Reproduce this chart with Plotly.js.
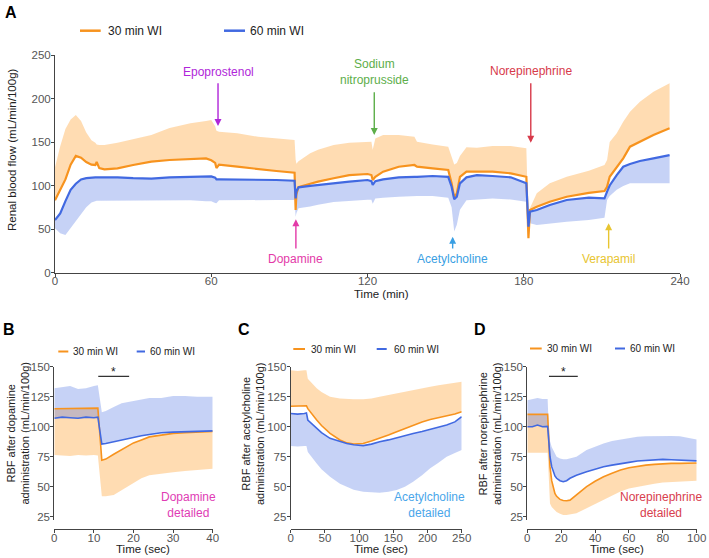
<!DOCTYPE html>
<html><head><meta charset="utf-8">
<script src="https://cdn.plot.ly/plotly-3.0.1.min.js"></script>
<style>html,body{margin:0;padding:0;background:#fff}#chart{width:709px;height:558px}</style>
</head><body><div id="chart"></div>
<script>
// ---------- Panel A: whole experiment (time in min) ----------
const tA  = [0,2,4,6,8,10,12,14,15.5,16,17,19,24,30,37,44,52,58,60,61.5,62,63,70,78,85,92,92.4,92.7,93.5,98,101,107,113,120,121.5,122,123,126,132,138,139,145,151,152.3,153.3,154.3,155.5,158,162,168,175,181,181.8,182.4,185,190,196.5,205,211,212,213,215.7,218.2,220.8,224.6,229.8,236];
const oA  = [83,95,107,124,134,132,127,124,123.6,127,120,118.6,119.7,123.6,127.4,129.3,130.5,131.2,129,126,120,124,121.6,118.6,116.7,114.7,72,90,98,102,104.5,108.3,112,113.2,112,106.3,110,115.9,121.6,123.6,121.6,119.7,117.8,102.5,86,91,110,116,115.9,115.9,114,110,39.3,71.8,75.6,81.4,87.1,91.5,93.7,98.6,110,121.6,131.2,144.6,150.3,158,165.7];
const oUA = [121,145,165,176,181,174,161,152,149,147,146.6,146.6,149.2,153,158,166,171.5,174,175.3,168,163,161.8,160,156,154,152.3,130,125,128,137,141,146.6,149.2,150.3,150.3,141,154,158,158,156,150.3,147,144.6,133,124,126,134,144,143.5,145.4,145.4,142.7,55,74,91,102.5,110,117,123.6,129.3,150,160,173.4,184.8,196.3,207.8,217.5];
const bA  = [60.3,68,82,95,102,107,108.5,109.4,109.4,109.4,109.4,109.4,109.4,108.5,108,109.4,110,110.9,110.5,109,107,107.1,107.1,106.8,106.3,105.5,85.2,93,97.9,99.5,100.6,102.5,104.4,106.3,105,100.6,105,107.1,109.4,110,110,110.9,110,98.6,84.1,87.1,102.5,109.4,112,110.9,109.4,102.5,52.6,69.9,71.8,77.6,83.3,86,85.2,92.9,100,112,121.6,124.7,128.2,131.2,135];
const bLA = [50.8,45,43,50.8,59,66,75,80.5,82,82.5,82.5,82.5,82.5,83,83.3,83.3,83,82,82,80,79.5,83,83.3,83.3,83.3,83.3,64,68,73.8,76,78,81,82.5,83.5,83.5,79,85,86,87,88,88,88,86,75,47,55,72,83,84,85.2,84,81.4,50,56.5,54.6,56.5,58.4,60.3,63,83.3,88,95,99.5,102.5,102.5,102.5,102.5];
const xTicksA = [0,60,120,180,240];
const yTicksA = [0,50,100,150,200,250];
const drugs      = ['Epoprostenol','Sodium<br>nitroprusside','Norepinephrine','Dopamine','Acetylcholine','Verapamil'];
const drugTime   = [62.6,122.6,182.7,92.5,152.7,212.6];

// ---------- Panel B: dopamine detailed (sec) ----------
const tB  = [0,2,4,6,8,10,11,12,13,15,17,20,22,24,27,30,33,36,40];
const oB  = [115,115,115.5,115,115.5,115.5,115.5,72,73,77,81,86.5,89,91.5,93,94.4,95,95.5,96];
const oLB = [76.5,76,75.5,76.5,76,76.5,76,42,42,43,47,53.5,57,59.5,61,62,63,64,65];
const bB  = [107,108,107.5,107,108,107.5,108,85.5,86,87.5,89,91.5,92.5,93.5,95,95.5,95.8,96.2,96.5];
const bUB = [132,133,134,131.5,132,134,134.5,112,113,116.5,119.5,121.5,122.5,124,124,125.5,125.5,125,125];

// ---------- Panel C: acetylcholine detailed (sec) ----------
const tC  = [0,10,20,23,25,30,38,45,57.5,72,82,92,106,118,130,143,155,167,179,192,204,216,228,240,250];
const oC  = [117,117,117,117.5,115,111,105.6,101,94.4,88.9,86.5,85.6,86,88,90.3,93,95.8,98.5,101.4,104,106,107.5,109,110.5,112.5];
const oUC = [147,146.5,147,147,140,137,132,129,125,123.5,123,122.8,122.8,123.5,125,126.5,127.8,129.5,131,132,133.3,134.5,135.5,136.5,137.5];
const bC  = [111,110.5,111,111.5,105.6,103,98.6,95,90.3,87.5,86,85,84.2,85.5,87.5,89,91,92.5,94.4,96,97.8,99.5,101.4,104,108.3];
const bLC = [84,83.5,84,84,79,75,69.4,64.5,58.3,52.5,50,47.5,45.8,45.2,45,45.8,47.2,50,54.2,59.5,65.3,70,75,78,80.6];

// ---------- Panel D: norepinephrine detailed (sec) ----------
const tD  = [0,3,6,9,12,12.5,13.4,14.4,16.3,17.3,19.3,21.2,23.2,25.2,29,35,40,45,50,55,60,65,70,75,80,85,90,95,100];
const oD  = [110.3,110.3,110.5,110.3,110.3,95,66.7,55,44.4,42,39.4,38.5,38.3,38.8,43,50,54.5,58.3,61.2,63.9,65.8,67.2,68,68.6,69.1,69.4,69.4,69.5,69.8];
const oLD = [78.3,78.5,78.3,78.3,78.3,65,36,33,30,29,27.5,26.5,26.4,26.8,27.8,32,35.5,39,43,46,48.5,50,51.5,52.5,53.5,54,54.5,55,55];
const bD  = [100,100,101.4,100,100.3,90,75,66.7,59,57,55,54.2,55,57,59.5,62.5,64.5,66.7,68,69.4,70.3,71.4,72,72.5,72.8,72.5,72.2,72,71.5];
const bUD = [122,123,124,123,123,105,88,83,77,75,73.5,72.8,72.8,73.5,75,80.6,83.5,86,88,89.4,90.5,91.7,92,92.2,92.2,92.2,92,91,89.4];

const seriesNames = ['30 min WI','60 min WI'];
const yTicksSmall = [25,50,75,100,125,150];

// ---------- styling ----------
const W = 709, H = 558;
const FONT = 'Liberation Sans, Arial, Helvetica, sans-serif';
const OR = '#f7931e', BL = '#4169e1';
const ORF = 'rgba(255,140,0,0.3)', BLF = 'rgba(65,105,225,0.3)';
const fx = p => p / W, fy = p => 1 - p / H;

function band(x, edge, mean, fill, ax, ay) {
  return [
    {x: x, y: edge, mode: 'lines', line: {width: 0}, xaxis: ax, yaxis: ay, hoverinfo: 'skip', showlegend: false},
    {x: x, y: mean, mode: 'lines', line: {width: 0}, fill: 'tonexty', fillcolor: fill, xaxis: ax, yaxis: ay, hoverinfo: 'skip', showlegend: false}
  ];
}
function meanLine(x, y, color, w, name, ax, ay) {
  return {x: x, y: y, mode: 'lines', line: {color: color, width: w}, name: name, xaxis: ax, yaxis: ay, showlegend: false};
}

const traces = [
  ...band(tA, oUA, oA, ORF, 'x', 'y'),
  ...band(tA, bLA, bA, BLF, 'x', 'y'),
  meanLine(tA, oA, OR, 2.2, seriesNames[0], 'x', 'y'),
  meanLine(tA, bA, BL, 2.2, seriesNames[1], 'x', 'y'),

  ...band(tB, oLB, oB, ORF, 'x2', 'y2'),
  ...band(tB, bUB, bB, BLF, 'x2', 'y2'),
  meanLine(tB, oB, OR, 1.6, seriesNames[0], 'x2', 'y2'),
  meanLine(tB, bB, BL, 1.6, seriesNames[1], 'x2', 'y2'),

  ...band(tC, oUC, oC, ORF, 'x3', 'y3'),
  ...band(tC, bLC, bC, BLF, 'x3', 'y3'),
  meanLine(tC, oC, OR, 1.6, seriesNames[0], 'x3', 'y3'),
  meanLine(tC, bC, BL, 1.6, seriesNames[1], 'x3', 'y3'),

  ...band(tD, oLD, oD, ORF, 'x4', 'y4'),
  ...band(tD, bUD, bD, BLF, 'x4', 'y4'),
  meanLine(tD, oD, OR, 1.6, seriesNames[0], 'x4', 'y4'),
  meanLine(tD, bD, BL, 1.6, seriesNames[1], 'x4', 'y4')
];

const ax = {showline: true, linecolor: '#444', linewidth: 1, ticks: 'outside', ticklen: 3, tickwidth: 1,
  tickcolor: '#444', showgrid: false, zeroline: false, fixedrange: true,
  tickfont: {family: FONT, size: 11.5, color: '#555'}};
const xa = Object.assign({}, ax, {ticklabelstandoff: -5});
const ya = Object.assign({}, ax, {ticklabelstandoff: -2});
const yDomSmall = [fy(520.3), fy(366.7)];
const xPosSmall = fy(529.3);

const layout = {
  width: W, height: H, margin: {l: 0, r: 0, t: 0, b: 0},
  paper_bgcolor: '#fff', plot_bgcolor: 'rgba(0,0,0,0)', showlegend: false,
  font: {family: FONT, color: '#222'},
  xaxis:  Object.assign({}, xa, {domain: [fx(55), fx(680)], range: [0, 240], tickvals: xTicksA, anchor: 'y'}),
  yaxis:  Object.assign({}, ya, {domain: [fy(272.5), fy(55)], range: [0, 250], tickvals: yTicksA, anchor: 'x'}),
  xaxis2: Object.assign({}, xa, {domain: [fx(54.3), fx(212.7)], range: [0, 40], tickvals: [0,10,20,30,40], anchor: 'free', position: xPosSmall}),
  yaxis2: Object.assign({}, ya, {domain: yDomSmall, range: [22, 150], tickvals: yTicksSmall, anchor: 'x2'}),
  xaxis3: Object.assign({}, xa, {domain: [fx(290.7), fx(461.7)], range: [0, 250], tickvals: [0,50,100,150,200,250], anchor: 'free', position: xPosSmall}),
  yaxis3: Object.assign({}, ya, {domain: yDomSmall, range: [22, 150], tickvals: yTicksSmall, anchor: 'x3'}),
  xaxis4: Object.assign({}, xa, {domain: [fx(527.3), fx(696.7)], range: [0, 100], tickvals: [0,20,40,60,80,100], anchor: 'free', position: xPosSmall}),
  yaxis4: Object.assign({}, ya, {domain: yDomSmall, range: [22, 150], tickvals: yTicksSmall, anchor: 'x4'}),
  shapes: [],
  annotations: []
};

function txt(px, py, text, size, color, extra) {
  return Object.assign({xref: 'paper', yref: 'paper', x: fx(px), y: fy(py), text: text, showarrow: false,
    xanchor: 'center', yanchor: 'middle', font: {family: FONT, size: size, color: color}}, extra || {});
}
function keyLine(x0, x1, py, color, w) {
  return {type: 'line', xref: 'paper', yref: 'paper', x0: fx(x0), x1: fx(x1), y0: fy(py), y1: fy(py), line: {color: color, width: w}};
}

// panel letters
layout.annotations.push(txt(10.8, 12.5, '<b>A</b>', 16, '#000'));
layout.annotations.push(txt(9.2, 329, '<b>B</b>', 16, '#000'));
layout.annotations.push(txt(244, 329, '<b>C</b>', 16, '#000'));
layout.annotations.push(txt(480.5, 329, '<b>D</b>', 16, '#000'));

// legends (key line + label)
const legendSpecs = [
  {y: 30.7, o: [80, 100.7, 106], b: [224, 245, 248.3], size: 12, w: 2.5},
  {y: 351.5, o: [58.3, 68.3, 71], b: [136.7, 145, 147.7], size: 10, w: 2},
  {y: 349, o: [293.3, 305, 309], b: [376.7, 386.7, 391.7], size: 10, w: 2},
  {y: 348.5, o: [530, 541.7, 545], b: [615, 625, 628.3], size: 10, w: 2}
];
legendSpecs.forEach(s => {
  layout.shapes.push(keyLine(s.o[0], s.o[1], s.y, OR, s.w));
  layout.shapes.push(keyLine(s.b[0], s.b[1], s.y, BL, s.w));
  layout.annotations.push(txt(s.o[2], s.y, seriesNames[0], s.size, '#222', {xanchor: 'left'}));
  layout.annotations.push(txt(s.b[2], s.y, seriesNames[1], s.size, '#222', {xanchor: 'left'}));
});

// axis titles
layout.annotations.push(txt(12, 150, 'Renal blood flow (mL/min/100g)', 11.5, '#222', {textangle: -90}));
layout.annotations.push(txt(381, 293.5, 'Time (min)', 11.5, '#222'));
layout.annotations.push(txt(17.5, 434, 'RBF after dopamine<br>administration (mL/min/100g)', 11, '#222', {textangle: -90}));
layout.annotations.push(txt(253, 434, 'RBF after acetylcholine<br>administration (mL/min/100g)', 11, '#222', {textangle: -90}));
layout.annotations.push(txt(490, 434, 'RBF after norepinephrine<br>administration (mL/min/100g)', 11, '#222', {textangle: -90}));
layout.annotations.push(txt(143, 549, 'Time (sec)', 11.5, '#222'));
layout.annotations.push(txt(381, 549, 'Time (sec)', 11.5, '#222'));
layout.annotations.push(txt(617, 549, 'Time (sec)', 11.5, '#222'));

// drug arrows in panel A
const drugColor = ['#b026d9', '#5dae4a', '#d73a4a', '#e33aa8', '#3a9fe3', '#e8c531'];
const drugTextPy = [71.7, 72.2, 71, 259.3, 259, 259];
const arrowTail = [219.3, 209, 219.3, 25.9, 25.9, 25.9];
const arrowHead = [168.4, 158, 149.2, 61.1, 41.1, 56.6];
drugs.forEach((d, i) => {
  const px = 55 + drugTime[i] * 625 / 240;
  layout.annotations.push(txt(px, drugTextPy[i], d, 12, drugColor[i]));
  layout.annotations.push({xref: 'x', yref: 'y', axref: 'x', ayref: 'y', x: drugTime[i], y: arrowHead[i],
    ax: drugTime[i], ay: arrowTail[i], text: '', showarrow: true, arrowhead: 2, arrowsize: 1,
    arrowwidth: 1.4, arrowcolor: drugColor[i], standoff: 0, startstandoff: 0});
});

// detail labels
layout.annotations.push(txt(189, 504.5, 'Dopamine<br>detailed', 12, '#e03cb4'));
layout.annotations.push(txt(429.3, 504.5, 'Acetylcholine<br>detailed', 12, '#4aa6ea'));
layout.annotations.push(txt(661.3, 504.5, 'Norepinephrine<br>detailed', 12, '#d8404e'));

// significance bars
layout.shapes.push({type: 'line', xref: 'x2', yref: 'y2', x0: 11.1, x1: 18.9, y0: 142, y1: 142, line: {color: '#333', width: 1.2}});
layout.annotations.push({xref: 'x2', yref: 'y2', x: 15, y: 142, yshift: 4, text: '*', showarrow: false, font: {family: FONT, size: 12, color: '#222'}});
layout.shapes.push({type: 'line', xref: 'x4', yref: 'y4', x0: 12.8, x1: 29.8, y0: 142, y1: 142, line: {color: '#333', width: 1.2}});
layout.annotations.push({xref: 'x4', yref: 'y4', x: 21.3, y: 142, yshift: 4, text: '*', showarrow: false, font: {family: FONT, size: 12, color: '#222'}});

Plotly.newPlot('chart', traces, layout, {staticPlot: true, displayModeBar: false});
</script></body></html>
